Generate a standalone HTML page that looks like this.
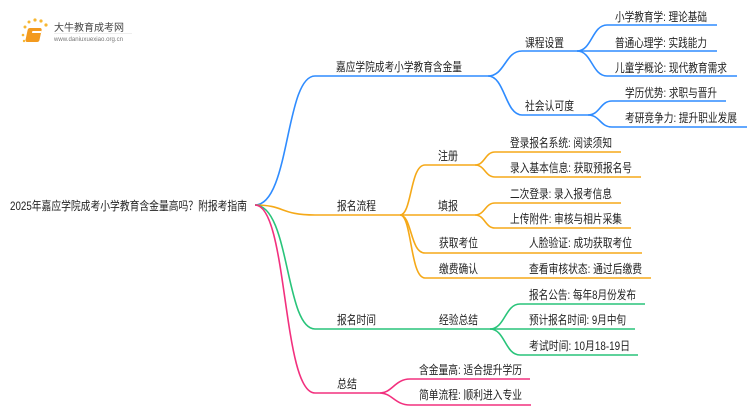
<!DOCTYPE html>
<html><head><meta charset="utf-8"><style>
html,body{margin:0;padding:0;background:#fff;}
svg{display:block;}
text{font-family:"Liberation Sans","Noto Sans CJK SC",sans-serif;font-size:12px;fill:#222;}
</style></head><body>
<svg width="750" height="410" viewBox="0 0 750 410" xmlns="http://www.w3.org/2000/svg">
<g>
<circle cx="25" cy="27" r="1.5" fill="#f7b733"/><circle cx="29" cy="22" r="1.5" fill="#f7b733"/><circle cx="35" cy="20" r="1.6" fill="#f7b733"/><circle cx="41" cy="21" r="1.6" fill="#f7b733"/><circle cx="46" cy="25" r="1.6" fill="#f7b733"/><circle cx="23" cy="35" r="1.3" fill="#f7b733"/><circle cx="24" cy="41" r="1.2" fill="#f7b733"/>
<rect x="34" y="28" width="14" height="14" rx="2" fill="#f39a1e" transform="skewX(-12)"/>
<rect x="39" y="31" width="9" height="2" fill="#fff" transform="skewX(-12)"/>
<text x="54" y="31" style="font-size:10px;fill:#444" textLength="70" lengthAdjust="spacingAndGlyphs">大牛教育成考网</text>
<text x="54" y="41" style="font-size:6px;fill:#777" textLength="69" lengthAdjust="spacingAndGlyphs">www.daniuxuexiao.org.cn</text>
<line x1="54" y1="33.5" x2="132" y2="33.5" stroke="#ddd" stroke-width="0.6"/>
</g>
<g fill="none" stroke-width="1.6">
<g stroke="#2f8cff">
<path d="M255 205 C 290 205, 285 76, 315 76 L 488 76"/>
<path d="M488 76 C 505 76, 505 51, 522 51 L 577 51"/>
<path d="M488 76 C 505 76, 505 115, 522 115 L 588 115"/>
<path d="M577 51 C 592 51, 592 25, 607 25 L 717 25"/>
<path d="M577 51 L 717 51"/>
<path d="M577 51 C 592 51, 592 76, 607 76 L 737 76"/>
<path d="M588 115 C 600 115, 600 101, 612 101 L 726 101"/>
<path d="M588 115 C 600 115, 600 127, 612 127 L 747 127"/>
</g>
<g stroke="#f5a918">
<path d="M255 205 C 285 205, 280 215, 315 215 L 400 215"/>
<path d="M400 215 C 412 215, 410 165, 425 165 L 475 165"/>
<path d="M400 215 L 475 215"/>
<path d="M400 215 C 412 215, 410 253, 425 253 L 642 253"/>
<path d="M400 215 C 412 215, 410 278, 425 278 L 651 278"/>
<path d="M475 165 C 485 165, 485 152, 495 152 L 621 152"/>
<path d="M475 165 C 485 165, 485 177, 495 177 L 641 177"/>
<path d="M475 215 C 485 215, 485 203, 495 203 L 621 203"/>
<path d="M475 215 C 485 215, 485 228, 495 228 L 631 228"/>
</g>
<g stroke="#29c47a">
<path d="M255 205 C 290 205, 285 329, 315 329 L 490 329"/>
<path d="M490 329 C 505 329, 505 304, 520 304 L 645 304"/>
<path d="M490 329 L 635 329"/>
<path d="M490 329 C 505 329, 505 355, 520 355 L 638 355"/>
</g>
<g stroke="#f2307e">
<path d="M255 205 C 288 205, 282 393, 315 393 L 380 393"/>
<path d="M380 393 C 392 393, 395 379, 410 379 L 530 379"/>
<path d="M380 393 C 392 393, 395 405, 410 405 L 531 405"/>
</g>
</g>
<g>
<text x="10" y="210" textLength="237" lengthAdjust="spacingAndGlyphs">2025年嘉应学院成考小学教育含金量高吗？附报考指南</text>
<text x="336" y="71" textLength="126" lengthAdjust="spacingAndGlyphs">嘉应学院成考小学教育含金量</text>
<text x="525" y="47" textLength="39" lengthAdjust="spacingAndGlyphs">课程设置</text>
<text x="525" y="110" textLength="49" lengthAdjust="spacingAndGlyphs">社会认可度</text>
<text x="615" y="21" textLength="92" lengthAdjust="spacingAndGlyphs">小学教育学: 理论基础</text>
<text x="615" y="47" textLength="92" lengthAdjust="spacingAndGlyphs">普通心理学: 实践能力</text>
<text x="615" y="72" textLength="112" lengthAdjust="spacingAndGlyphs">儿童学概论: 现代教育需求</text>
<text x="625" y="97" textLength="92" lengthAdjust="spacingAndGlyphs">学历优势: 求职与晋升</text>
<text x="625" y="122" textLength="112" lengthAdjust="spacingAndGlyphs">考研竞争力: 提升职业发展</text>

<text x="337" y="210" textLength="39" lengthAdjust="spacingAndGlyphs">报名流程</text>
<text x="438" y="160" textLength="20" lengthAdjust="spacingAndGlyphs">注册</text>
<text x="438" y="210" textLength="20" lengthAdjust="spacingAndGlyphs">填报</text>
<text x="439" y="247" textLength="39" lengthAdjust="spacingAndGlyphs">获取考位</text>
<text x="439" y="273" textLength="39" lengthAdjust="spacingAndGlyphs">缴费确认</text>
<text x="510" y="147" textLength="102" lengthAdjust="spacingAndGlyphs">登录报名系统: 阅读须知</text>
<text x="510" y="172" textLength="122" lengthAdjust="spacingAndGlyphs">录入基本信息: 获取预报名号</text>
<text x="510" y="198" textLength="102" lengthAdjust="spacingAndGlyphs">二次登录: 录入报考信息</text>
<text x="510" y="223" textLength="112" lengthAdjust="spacingAndGlyphs">上传附件: 审核与相片采集</text>
<text x="529" y="247" textLength="103" lengthAdjust="spacingAndGlyphs">人脸验证: 成功获取考位</text>
<text x="529" y="273" textLength="113" lengthAdjust="spacingAndGlyphs">查看审核状态: 通过后缴费</text>

<text x="337" y="324" textLength="39" lengthAdjust="spacingAndGlyphs">报名时间</text>
<text x="439" y="324" textLength="39" lengthAdjust="spacingAndGlyphs">经验总结</text>
<text x="529" y="299" textLength="107" lengthAdjust="spacingAndGlyphs">报名公告: 每年8月份发布</text>
<text x="529" y="324" textLength="97" lengthAdjust="spacingAndGlyphs">预计报名时间: 9月中旬</text>
<text x="529" y="350" textLength="101" lengthAdjust="spacingAndGlyphs">考试时间: 10月18-19日</text>

<text x="337" y="388" textLength="20" lengthAdjust="spacingAndGlyphs">总结</text>
<text x="419" y="374" textLength="103" lengthAdjust="spacingAndGlyphs">含金量高: 适合提升学历</text>
<text x="419" y="399" textLength="103" lengthAdjust="spacingAndGlyphs">简单流程: 顺利进入专业</text>
</g>
</svg>
</body></html>
